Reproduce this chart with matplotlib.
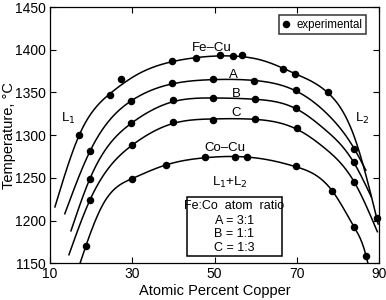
import numpy as np
import matplotlib
matplotlib.use("Agg")
import matplotlib.pyplot as plt
from matplotlib.patches import Rectangle

plt.rcParams['font.family'] = ['Liberation Sans', 'DejaVu Sans']

# ---- experimental points (atomic % Cu, temperature °C) ----
fecu_x = [17.1, 24.7, 27.3, 39.7, 45.4, 51.4, 54.6, 56.7, 66.6, 69.6, 77.7, 89.4]
fecu_t = [1300, 1347, 1366, 1386.5, 1390.7, 1393.5, 1393, 1394.2, 1377.4, 1371.2, 1350, 1203.3]
a_x = [19.7, 29.7, 39.7, 49.7, 59.7, 69.7, 84.0]
a_t = [1281, 1340.5, 1361.4, 1365.4, 1363.7, 1352.8, 1284]
b_x = [19.7, 29.8, 39.8, 49.7, 59.8, 69.8, 83.8]
b_t = [1248.7, 1314, 1340.8, 1343.8, 1342.3, 1332.1, 1268.6]
c_x = [19.7, 29.9, 39.8, 49.7, 59.8, 70.0, 84.0]
c_t = [1224.1, 1288, 1315.4, 1318.1, 1318.9, 1308.7, 1244.8]
cocu_x = [18.7, 29.9, 38.1, 47.6, 55.0, 58.0, 69.8, 78.6, 83.9, 86.9]
cocu_t = [1170.2, 1248.7, 1264.5, 1274.1, 1274.8, 1274.4, 1264, 1234.6, 1192.8, 1158.5]

# ---- fitted (smooth) curves ----
fecu_cx = [11.2, 17.1, 24.7, 32.0, 39.7, 47.0, 55.0, 62.0, 69.6, 77.7, 84.0, 89.8]
fecu_ct = [1216, 1300, 1349, 1373, 1386, 1391.5, 1392.5, 1387, 1372, 1349, 1298, 1196]
a_cx = [13.6, 19.7, 29.7, 39.7, 49.7, 59.7, 69.7, 78.0, 84.0, 86.8]
a_ct = [1208, 1281, 1340, 1360, 1365, 1364, 1352, 1322, 1284, 1259]
b_cx = [15.1, 19.7, 29.8, 39.8, 49.7, 59.8, 69.8, 77.0, 83.8, 88.1]
b_ct = [1188, 1249, 1314, 1339, 1343.5, 1342, 1331, 1306, 1268.6, 1228]
c_cx = [14.6, 19.7, 29.9, 39.8, 49.7, 59.8, 70.0, 77.0, 84.0, 89.6]
c_ct = [1160, 1224, 1288, 1313.5, 1319, 1318.5, 1307, 1284, 1245, 1187]
cocu_cx = [17.3, 18.7, 23.0, 29.9, 38.1, 47.6, 55.0, 62.0, 69.8, 78.6, 83.9, 86.9, 87.3]
cocu_ct = [1150, 1170, 1220, 1249, 1265, 1273.5, 1275, 1272, 1263, 1235, 1193, 1158, 1150]

x_ticks = [10, 30, 50, 70, 90]
y_ticks = [1150, 1200, 1250, 1300, 1350, 1400, 1450]
ratio_lines = ['Fe:Co  atom  ratio', 'A = 3:1', 'B = 1:1', 'C = 1:3']


def spline(xs, ys, n=300):
    """Natural cubic spline through the traced curve points."""
    x = np.asarray(xs, float)
    y = np.asarray(ys, float)
    k = len(x)
    h = np.diff(x)
    A = np.zeros((k, k))
    r = np.zeros(k)
    A[0, 0] = A[-1, -1] = 1
    for i in range(1, k - 1):
        A[i, i - 1] = h[i - 1]
        A[i, i] = 2 * (h[i - 1] + h[i])
        A[i, i + 1] = h[i]
        r[i] = 6 * ((y[i + 1] - y[i]) / h[i] - (y[i] - y[i - 1]) / h[i - 1])
    m = np.linalg.solve(A, r)
    xx = np.linspace(x[0], x[-1], n)
    idx = np.clip(np.searchsorted(x, xx) - 1, 0, k - 2)
    x0, x1 = x[idx], x[idx + 1]
    hh = x1 - x0
    t0 = (x1 - xx)
    t1 = (xx - x0)
    yy = (m[idx] * t0 ** 3 / (6 * hh) + m[idx + 1] * t1 ** 3 / (6 * hh)
          + (y[idx] / hh - m[idx] * hh / 6) * t0
          + (y[idx + 1] / hh - m[idx + 1] * hh / 6) * t1)
    return xx, yy


fig = plt.figure(figsize=(3.86, 3.0), dpi=100)
ax = fig.add_axes([50 / 386, 1 - 263.3 / 300, 329 / 386, 256.3 / 300])

for cx, ct in [(fecu_cx, fecu_ct), (a_cx, a_ct), (b_cx, b_ct), (c_cx, c_ct), (cocu_cx, cocu_ct)]:
    xx, yy = spline(cx, ct)
    ax.plot(xx, yy, color='black', lw=1.1)

all_x = fecu_x + a_x + b_x + c_x + cocu_x
all_t = fecu_t + a_t + b_t + c_t + cocu_t
ax.plot(all_x, all_t, 'o', color='black', ms=4.4, clip_on=False, zorder=5,
        label='experimental')

ax.set_xlim(10, 90)
ax.set_ylim(1150, 1450)
ax.set_xticks(x_ticks)
ax.set_yticks(y_ticks)
ax.tick_params(direction='in', top=True, right=True, length=4, width=0.8,
               labelsize=10, pad=3)
for s in ax.spines.values():
    s.set_linewidth(0.9)
ax.set_xlabel('Atomic Percent Copper', fontsize=10.5, labelpad=2)
ax.set_ylabel('Temperature, \u00b0C', fontsize=10.5)
ax.yaxis.label.set_verticalalignment('center')
ax.yaxis.set_label_coords(-0.126, 0.5)

leg = ax.legend(loc='upper right', fontsize=8.3, frameon=True, fancybox=False,
                edgecolor='black', handlelength=0.7, handletextpad=0.55,
                borderpad=0.3, bbox_to_anchor=(0.96, 0.968), borderaxespad=0)
leg.get_frame().set_linewidth(1.1)

fs = 9.5
ax.text(49.4, 1402, 'Fe\u2013Cu', ha='center', va='center', fontsize=fs)
ax.text(54.6, 1370.4, 'A', ha='center', va='center', fontsize=fs)
ax.text(55.2, 1348.2, 'B', ha='center', va='center', fontsize=fs)
ax.text(55.2, 1325.6, 'C', ha='center', va='center', fontsize=fs)
ax.text(52.6, 1284.6, 'Co\u2013Cu', ha='center', va='center', fontsize=fs)
ax.text(53.8, 1244.6, 'L$_1$+L$_2$', ha='center', va='center', fontsize=fs)
ax.text(14.5, 1319.7, 'L$_1$', ha='center', va='center', fontsize=fs)
ax.text(85.8, 1319.7, 'L$_2$', ha='center', va='center', fontsize=fs)

# ratio box
ax.add_patch(Rectangle((43.3, 1158.5), 23.1, 69.1,
                       fill=True, fc='white', ec='black', lw=1.1, zorder=4))
ratio_y = [1217.1, 1199.9, 1183.9, 1168.2]
for txt, yy in zip(ratio_lines, ratio_y):
    ax.text(54.85, yy, txt, ha='center', va='center', fontsize=9, zorder=6)

fig.savefig('out.png', dpi=100)
